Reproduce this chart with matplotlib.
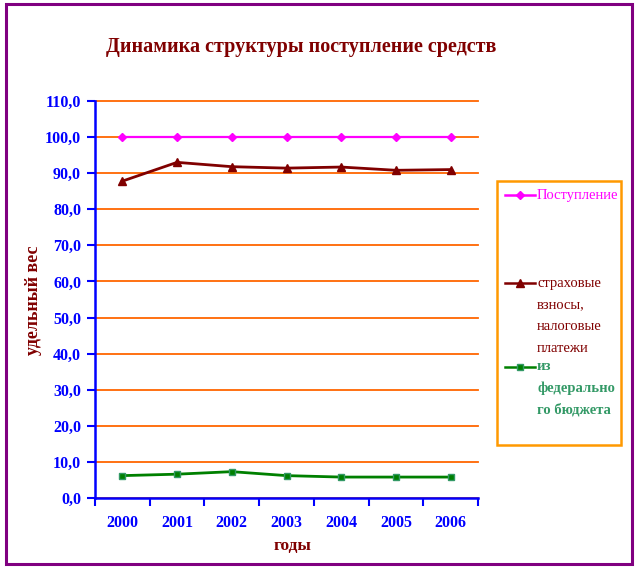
import matplotlib
matplotlib.use("Agg")
import matplotlib.pyplot as plt
from matplotlib.patches import Rectangle
from matplotlib.lines import Line2D
import numpy as np

years = ["2000", "2001", "2002", "2003", "2004", "2005", "2006"]
postuplenie = [100.0, 100.0, 100.0, 100.0, 100.0, 100.0, 100.0]
strakhovye = [87.8, 93.0, 91.8, 91.4, 91.7, 90.8, 91.0]
federalny = [6.2, 6.6, 7.3, 6.2, 5.8, 5.8, 5.8]
yticks = np.arange(0, 111, 10)

W, H = 636, 569
plt.rcParams['font.family'] = ['Liberation Serif', 'DejaVu Serif']
fig = plt.figure(figsize=(W / 100, H / 100), dpi=100)

def fx(px):
    return px / W

def fy(py):
    return 1 - py / H

ax = fig.add_axes([fx(95), fy(498), fx(478) - fx(95), fy(101) - fy(498)])
x = np.arange(len(years))

ax.plot(x, postuplenie, color="#FF00FF", lw=1.6, marker="D", ms=4.5,
        mfc="#FF00FF", mec="#FF00FF", zorder=3, clip_on=False)
ax.plot(x, strakhovye, color="#800000", lw=2, marker="^", ms=6,
        mfc="#800000", mec="#800000", zorder=3, clip_on=False)
ax.plot(x, federalny, color="#008000", lw=2, marker="s", ms=5,
        mfc="#008000", mec="#339966", zorder=3, clip_on=False)

ax.set_xlim(-0.5, len(years) - 0.5)
ax.set_ylim(0, 110)
ax.set_yticks(yticks)
ax.set_yticklabels([f"{v:.1f}".replace(".", ",") for v in yticks])
ax.yaxis.grid(True, color="#FF6600", lw=1.3)
for gl in ax.get_ygridlines():
    gl.set_clip_on(False)
ax.set_axisbelow(True)

ax.set_xticks(x)
ax.set_xticklabels(years)
ax.set_xticks(np.arange(-0.5, len(years)), minor=True)
ax.tick_params(axis="x", which="major", length=0, pad=12, labelsize=11.5, labelcolor="#0000FF")
ax.tick_params(axis="x", which="minor", length=6, width=1.5, color="#0000FF", direction="out")
ax.tick_params(axis="y", length=6, width=1.5, color="#0000FF", direction="out",
               labelsize=11.5, labelcolor="#0000FF", pad=4)
for lab in ax.get_xticklabels() + ax.get_yticklabels():
    lab.set_fontweight("bold")

for s in ["top", "right"]:
    ax.spines[s].set_visible(False)
for s in ["left", "bottom"]:
    ax.spines[s].set_color("#0000FF")
    ax.spines[s].set_linewidth(1.8)

fig.text(fx(301), fy(47), "Динамика структуры поступление средств", ha="center", va="center",
         color="#800000", fontsize=14.5, fontweight="bold")
fig.text(fx(33), fy(300), "удельный вес", rotation=90, ha="center", va="center",
         color="#800000", fontsize=13, fontweight="bold")
fig.text(fx(292), fy(546), "годы", ha="center", va="center",
         color="#800000", fontsize=12.5, fontweight="bold")

# Outer border
fig.add_artist(Rectangle((fx(6), fy(564)), fx(632) - fx(6), fy(4) - fy(564),
                         transform=fig.transFigure, fill=False, ec="#800080", lw=2.2))

# Legend box
fig.add_artist(Rectangle((fx(497), fy(445)), fx(621) - fx(497), fy(181) - fy(445),
                         transform=fig.transFigure, fill=False, ec="#FF9900", lw=1.8))

def handle(py, color, marker, ms, mec):
    fig.add_artist(Line2D([fx(505), fx(535)], [fy(py), fy(py)], transform=fig.transFigure,
                          color=color, lw=1.8))
    fig.add_artist(Line2D([fx(520)], [fy(py)], transform=fig.transFigure, marker=marker,
                          ms=ms, color=color, mfc=color, mec=mec, lw=0))

handle(195, "#FF00FF", "D", 4.5, "#FF00FF")
fig.text(fx(537), fy(195), "Поступление", color="#FF00FF", fontsize=10.5, va="center", ha="left")

handle(283, "#800000", "^", 6, "#800000")
for i, t in enumerate(["страховые", "взносы,", "налоговые", "платежи"]):
    fig.text(fx(537), fy(283 + 22 * i), t, color="#800000", fontsize=10.5, va="center", ha="left")

handle(367, "#008000", "s", 5, "#339966")
for i, t in enumerate(["из", "федерально", "го бюджета"]):
    fig.text(fx(537), fy(367 + 21.5 * i), t, color="#339966", fontsize=10.5, va="center",
             ha="left", fontweight="bold")

fig.savefig("out.png", dpi=100)
